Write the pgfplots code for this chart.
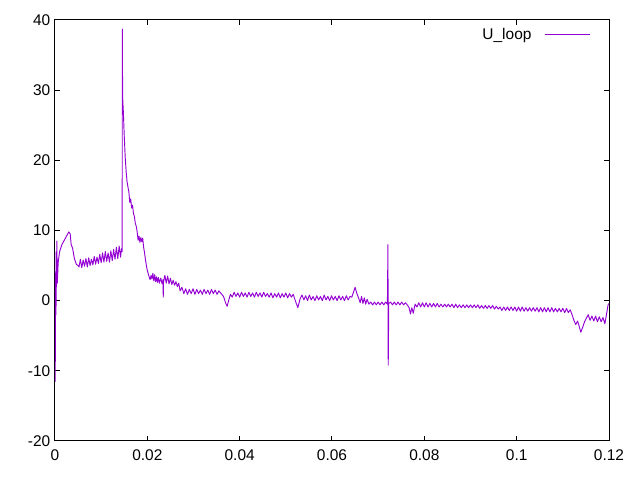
\documentclass[border=0pt]{standalone}
\usepackage{pgfplots}
\pgfplotsset{compat=1.18}
\usepackage{fontspec}
\setmainfont{Liberation Sans}
\definecolor{gpviolet}{RGB}{148,0,211}
\begin{document}
\begin{tikzpicture}
\begin{axis}[
  scale only axis,
  width=415.5pt, height=315.75pt,
  xmin=0, xmax=0.12, ymin=-20, ymax=40,
  xtick={0,0.02,0.04,0.06,0.08,0.1,0.12},
  xticklabels={0,0.02,0.04,0.06,0.08,0.1,0.12},
  ytick={-20,-10,0,10,20,30,40},
  scaled x ticks=false,
  tick align=inside,
  major tick length=3.5pt,
  axis line style={line width=0.75pt},
  every tick/.style={line width=0.75pt,black},
  tick label style={font=\fontsize{11.6}{13}\selectfont},
  xticklabel style={yshift=-3pt},
  /pgf/number format/assume math mode=true,
  legend style={draw=none, fill=none, at={(rel axis cs:1,1)}, anchor=north east, xshift=-10.5pt, yshift=-2pt, font=\fontsize{11.6}{13}\selectfont, /tikz/column 1/.style={column sep=8pt}},
  legend plot pos=right,
  legend cell align=right,
  legend image code/.code={\draw[#1] (0pt,0pt) -- (33.75pt,0pt);},
]
\addplot[color=gpviolet, line width=0.7pt, line join=round] coordinates {
(0.0000,7.0) (0.00005,-11.5) (0.0001,0.5) (0.0002,-2.0) (0.0003,3) (0.0004,8.5) (0.0005,2.5) (0.0007,5.5) (0.0010,7.0) (0.0015,8.0) (0.0020,8.6) (0.0025,9.2) (0.0030,9.8) (0.0033,9.5) (0.0035,8.0) (0.0038,7.5) (0.0042,6.0) (0.0046,5.2) (0.0050,5.0)
(0.0052,4.8) (0.0055,5.9) (0.0058,4.7) (0.0061,5.8) (0.0064,4.9) (0.0067,6.0) (0.0070,4.8) (0.0073,6.1) (0.0076,5.0) (0.0079,5.9) (0.0082,5.1) (0.0085,6.3) (0.0088,5.2) (0.0091,6.2) (0.0094,5.3) (0.0097,6.6) (0.0100,5.4) (0.0103,6.8) (0.0106,5.5) (0.0109,7.0) (0.0112,5.6) (0.0115,6.8) (0.0118,5.5) (0.0121,7.1) (0.0124,5.7) (0.0127,7.3) (0.0130,5.9) (0.0133,7.6) (0.0136,6.0) (0.0139,7.8) (0.0142,6.2) (0.0144,7.4) (0.01455,7.0)
(0.01458,38.7) (0.01465,29.0) (0.0148,27.0) (0.0150,23.5) (0.0152,20.5) (0.0154,18.5) (0.0156,17.0) (0.0158,16.2) (0.0160,15.5) (0.0162,14.0) (0.0164,14.5) (0.0166,13.2) (0.0168,13.6) (0.0170,12.4) (0.0172,12.0) (0.0174,11.0) (0.0176,10.6) (0.0178,9.8) (0.0180,8.6) (0.0182,9.2) (0.0184,8.3) (0.0186,9.0) (0.0188,8.4) (0.0190,8.9) (0.0192,7.6) (0.0194,6.8) (0.0196,5.8) (0.0198,5.0) (0.0200,4.3) (0.0203,3.6) (0.0206,3.0) (0.0208,3.6) (0.0210,3.1) (0.0212,3.9) (0.0214,2.8) (0.0216,3.7) (0.0218,2.7) (0.0220,3.4) (0.0222,2.6) (0.0224,3.3) (0.0226,2.5) (0.0229,3.2) (0.0232,2.4) (0.0234,3.0) (0.02345,0.5) (0.0235,2.6) (0.0238,3.6) (0.0241,2.5) (0.0244,3.5) (0.0247,2.4) (0.0250,3.2) (0.0253,2.3) (0.0256,2.9) (0.0259,2.2) (0.0262,2.7) (0.0265,2.0) (0.0268,2.5)
(0.0271,1.4) (0.0275,1.9) (0.0279,1.0) (0.0283,1.7) (0.0287,0.9) (0.0291,1.6) (0.0295,1.0) (0.0299,1.7) (0.0303,0.9) (0.0307,1.6) (0.0311,1.0) (0.0315,1.5) (0.0319,0.9) (0.0323,1.6) (0.0327,1.0) (0.0331,1.5) (0.0335,0.9) (0.0339,1.6) (0.0343,1.0) (0.0347,1.5) (0.0351,0.9) (0.0355,1.4) (0.0360,1.0) (0.0365,0.6) (0.0370,-0.4) (0.0373,-0.8) (0.0376,0.0) (0.0380,0.9)
(0.0384,0.5) (0.0388,1.2) (0.0392,0.6) (0.0396,1.1) (0.0400,0.5) (0.0404,1.2) (0.0408,0.6) (0.0412,1.1) (0.0416,0.5) (0.0420,1.2) (0.0424,0.6) (0.0428,1.1) (0.0432,0.5) (0.0436,1.2) (0.0440,0.6) (0.0444,1.1) (0.0448,0.5) (0.0452,1.2) (0.0456,0.6) (0.0460,1.0) (0.0464,0.5) (0.0468,1.1) (0.0472,0.4) (0.0476,1.0) (0.0480,0.5) (0.0484,1.1) (0.0488,0.4) (0.0492,1.0) (0.0496,0.5) (0.0500,1.1) (0.0504,0.4) (0.0508,1.0) (0.0512,0.5) (0.0516,0.9) (0.0521,-0.1) (0.0526,-1.0) (0.0531,0.3)
(0.0535,0.8) (0.0539,0.1) (0.0543,0.7) (0.0547,0.0) (0.0551,0.8) (0.0555,0.1) (0.0559,0.6) (0.0563,0.0) (0.0567,0.7) (0.0571,0.1) (0.0575,0.6) (0.0579,0.0) (0.0583,0.8) (0.0587,0.1) (0.0591,0.6) (0.0595,0.0) (0.0599,0.7) (0.0603,0.1) (0.0607,0.6) (0.0611,0.0) (0.0615,0.7) (0.0619,0.1) (0.0623,0.6) (0.0627,0.0) (0.0631,0.7) (0.0635,0.1) (0.0639,0.6) (0.0643,0.5) (0.0647,1.3) (0.0650,1.9) (0.0654,1.0) (0.0658,0.3) (0.0661,-0.3) (0.0664,0.6) (0.0667,-0.4) (0.0670,0.4) (0.0673,-0.5) (0.0676,0.2) (0.0680,-0.5)
(0.0684,-0.2) (0.0688,-0.6) (0.0692,-0.2) (0.0696,-0.6) (0.0700,-0.2) (0.0704,-0.6) (0.0708,-0.2) (0.0712,-0.6) (0.0716,-0.2) (0.0720,-0.5) (0.07212,8.0) (0.07218,-9.2) (0.0723,-0.4) (0.0727,-0.2) (0.0731,-0.6) (0.0735,-0.2) (0.0739,-0.6) (0.0743,-0.2) (0.0747,-0.6) (0.0751,-0.2) (0.0755,-0.6) (0.0759,-0.3) (0.0763,-0.6) (0.0767,-1.0) (0.0770,-1.9) (0.0773,-1.0) (0.0776,-1.8) (0.0780,-0.5)
(0.0784,-0.9) (0.0788,-0.3) (0.0792,-0.9) (0.0796,-0.3) (0.0800,-0.9) (0.0804,-0.3) (0.0808,-0.9) (0.0812,-0.4) (0.0816,-0.9) (0.0820,-0.4) (0.0824,-0.9) (0.0828,-0.4) (0.0832,-0.9) (0.0836,-0.5) (0.0840,-0.9) (0.0844,-0.5) (0.0848,-0.9) (0.0852,-0.5) (0.0856,-0.9) (0.0860,-0.5) (0.0864,-1.0) (0.0868,-0.5) (0.0872,-1.0) (0.0876,-0.6) (0.0880,-1.0) (0.0884,-0.6) (0.0888,-1.0) (0.0892,-0.6) (0.0896,-1.0) (0.0900,-0.6) (0.0904,-1.0) (0.0908,-0.6) (0.0912,-1.0) (0.0916,-0.6) (0.0920,-1.1) (0.0924,-0.7) (0.0928,-1.1) (0.0932,-0.7) (0.0936,-1.1) (0.0940,-0.7) (0.0944,-1.1) (0.0948,-0.7) (0.0952,-1.2) (0.0956,-0.8) (0.0960,-1.2)
(0.0964,-0.9) (0.0968,-1.4) (0.0972,-0.9) (0.0976,-1.4) (0.0980,-0.9) (0.0984,-1.4) (0.0988,-0.9) (0.0992,-1.4) (0.0996,-0.9) (0.1000,-1.5) (0.1004,-0.9) (0.1008,-1.5) (0.1012,-0.9) (0.1016,-1.5) (0.1020,-1.0) (0.1024,-1.5) (0.1028,-1.0) (0.1032,-1.5) (0.1036,-1.0) (0.1040,-1.5) (0.1044,-1.0) (0.1048,-1.6) (0.1052,-1.0) (0.1056,-1.6) (0.1060,-1.0) (0.1064,-1.6) (0.1068,-1.0) (0.1072,-1.6) (0.1076,-1.0) (0.1080,-1.6) (0.1084,-1.1) (0.1088,-1.6) (0.1092,-1.1) (0.1096,-1.6) (0.1100,-1.1) (0.1104,-1.7) (0.1108,-1.1) (0.1112,-1.7) (0.1116,-1.3)
(0.1120,-2.0) (0.1124,-2.8) (0.1128,-3.4) (0.1132,-2.9) (0.1136,-3.8) (0.1139,-4.5) (0.1143,-3.8) (0.1147,-3.0) (0.1151,-2.5) (0.1155,-2.0) (0.1159,-2.8) (0.1163,-2.2) (0.1167,-2.9) (0.1171,-2.2) (0.1175,-3.0) (0.1179,-2.3) (0.1183,-3.0) (0.1187,-2.4) (0.1191,-3.3) (0.1195,-1.8) (0.1198,-0.6) (0.1200,-0.4)
};
\addlegendentry{U\_loop}
\coordinate (sw) at (rel axis cs:0,0);
\coordinate (ne) at (rel axis cs:1,1);
\end{axis}
\useasboundingbox ([shift={(-41.25pt,-29.25pt)}]sw) rectangle ([shift={(23.25pt,15pt)}]ne);
\end{tikzpicture}
\end{document}
